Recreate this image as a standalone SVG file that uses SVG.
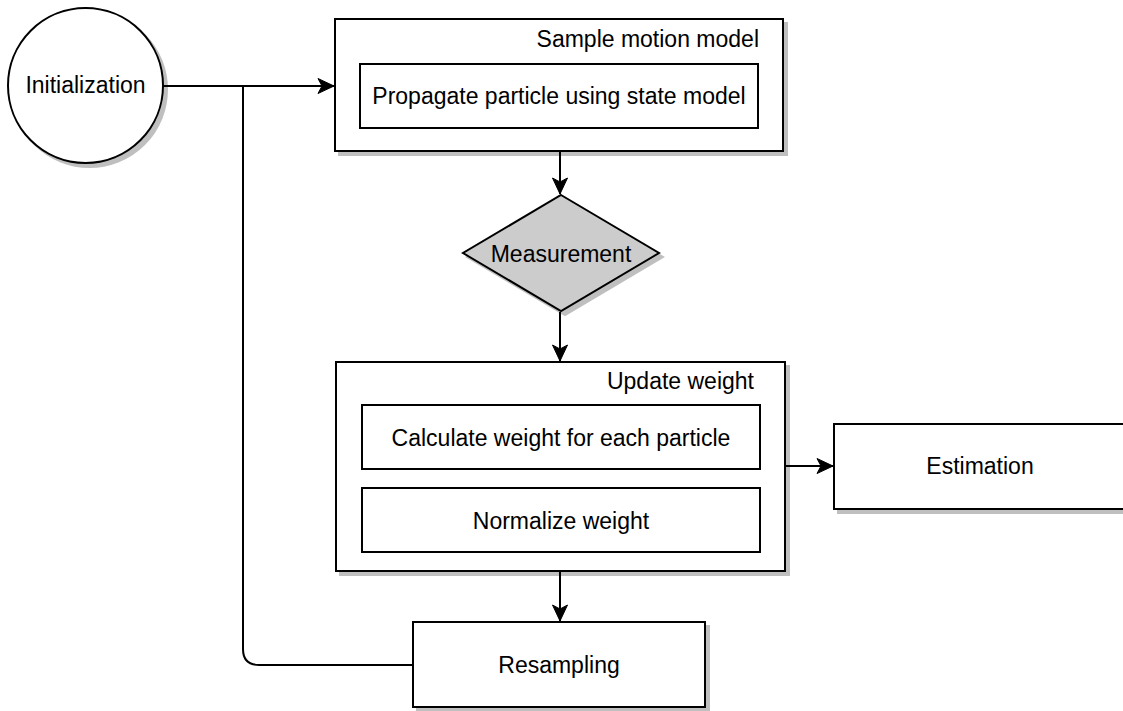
<svg xmlns="http://www.w3.org/2000/svg" width="1123" height="711" viewBox="0 0 1123 711">
  <style>
    .box { fill: #ffffff; stroke: #000000; stroke-width: 2; }
    .sh { filter: url(#shadow); }
    .lbl { font-family: "Liberation Sans", Arial, Helvetica, sans-serif; font-size: 23px; fill: #000000; }
    .mid { text-anchor: middle; }
    .end { text-anchor: end; }
    .edge { fill: none; stroke: #000000; stroke-width: 2; }
  </style>
  <defs>
    <filter id="shadow" x="-10%" y="-10%" width="130%" height="130%">
      <feDropShadow dx="4" dy="4" stdDeviation="0.5" flood-color="#000000" flood-opacity="0.25"/>
    </filter>
    <marker id="arrow" markerUnits="userSpaceOnUse" markerWidth="20" markerHeight="20" viewBox="-18 -10 20 20" refX="0" refY="0" orient="auto">
      <path d="M0,0 L-16,-7.5 L-12,0 L-16,7.5 Z" fill="#000000" stroke="#000000" stroke-width="1"/>
    </marker>
  </defs>
  <rect width="1123" height="711" fill="#ffffff"/>

  <g id="connectors">
    <path class="edge" d="M163,86 L334,86" marker-end="url(#arrow)"/>
    <path class="edge" d="M560,152 L560,194" marker-end="url(#arrow)"/>
    <path class="edge" d="M560,312 L560,361" marker-end="url(#arrow)"/>
    <path class="edge" d="M785,466 L833,466" marker-end="url(#arrow)"/>
    <path class="edge" d="M560,571 L560,621" marker-end="url(#arrow)"/>
    <path class="edge" d="M413,665 L259,665 Q243,665 243,649 L243,86"/>
  </g>

  <g id="initialization">
    <circle class="box sh" cx="85.5" cy="85.5" r="77.5"/>
    <text class="lbl mid" x="85.5" y="93">Initialization</text>
  </g>

  <g id="sample-motion-model">
    <rect class="box sh" x="335" y="19" width="448" height="132"/>
    <text class="lbl end" x="759" y="47">Sample motion model</text>
  </g>

  <g id="propagate">
    <rect class="box" x="360" y="64" width="398" height="64"/>
    <text class="lbl mid" x="559" y="104">Propagate particle using state model</text>
  </g>

  <g id="measurement">
    <polygon class="sh" points="561,195 659,253 561,311 463,253" fill="#cccccc" stroke="#000000" stroke-width="2"/>
    <text class="lbl mid" x="561" y="262">Measurement</text>
  </g>

  <g id="update-weight">
    <rect class="box sh" x="336" y="362" width="449" height="209"/>
    <text class="lbl end" x="754" y="389">Update weight</text>
  </g>

  <g id="calculate-weight">
    <rect class="box" x="362" y="405" width="398" height="64"/>
    <text class="lbl mid" x="561" y="446">Calculate weight for each particle</text>
  </g>

  <g id="normalize-weight">
    <rect class="box" x="362" y="488" width="398" height="64"/>
    <text class="lbl mid" x="561" y="529">Normalize weight</text>
  </g>

  <g id="estimation">
    <rect class="box sh" x="834" y="424" width="293" height="85"/>
    <text class="lbl mid" x="980" y="474">Estimation</text>
  </g>

  <g id="resampling">
    <rect class="box sh" x="413" y="622" width="292" height="85"/>
    <text class="lbl mid" x="559" y="673">Resampling</text>
  </g>
</svg>
